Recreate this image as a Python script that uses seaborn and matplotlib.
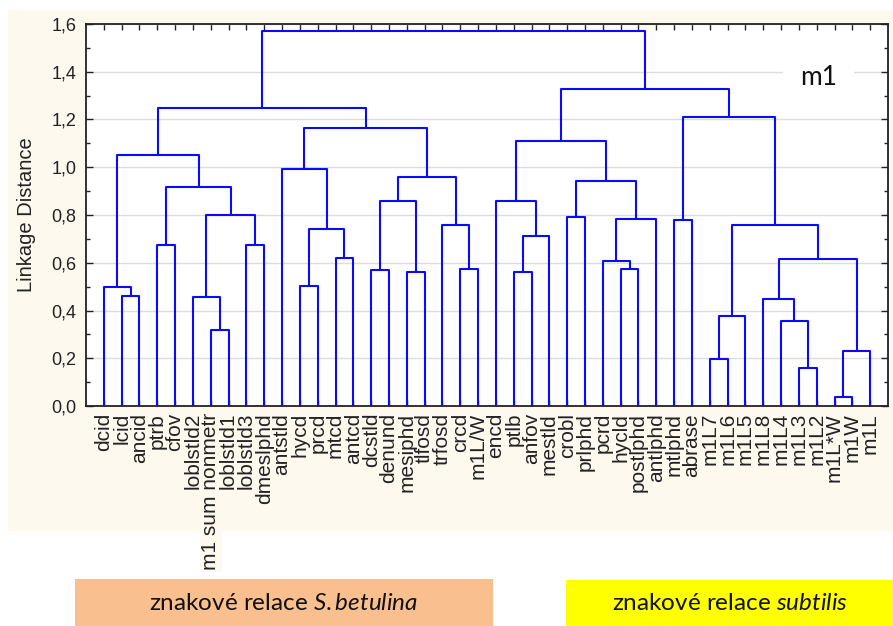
import numpy as np
import pandas as pd
import matplotlib
matplotlib.use("Agg")
import matplotlib.pyplot as plt
import seaborn as sns
from matplotlib.patches import Rectangle
from matplotlib.ticker import MultipleLocator, FuncFormatter

# ---------------- data ----------------
leaf_labels = ["dcid", "lcid", "ancid", "ptrb", "cfov", "loblstld2", "m1 sum nonmetr",
               "loblstld1", "loblstld3", "dmeslphd", "antstld", "hycd", "prcd", "mtcd",
               "antcd", "dcstld", "denund", "mesiphd", "tlfosd", "trfosd", "crcd", "m1L/W",
               "encd", "ptlb", "anfov", "mestld", "crobl", "prlphd", "pcrd", "hycld",
               "postlphd", "antlphd", "mtlphd", "abrase", "m1L7", "m1L6", "m1L5", "m1L8",
               "m1L4", "m1L3", "m1L2", "m1L*W", "m1W", "m1L"]

# linkage: cluster id of merge k is len(leaf_labels) + k
merge_left = [41, 39, 34, 44, 6, 38, 46, 37, 5, 1, 0, 11, 23, 17, 15, 20, 29, 28, 51, 13,
              3, 8, 56, 55, 19, 50, 32, 61, 26, 52, 58, 22, 64, 72, 74, 10, 54, 75, 79, 70,
              80, 81, 84]
merge_right = [42, 40, 35, 43, 7, 45, 36, 49, 48, 2, 53, 12, 24, 18, 16, 21, 30, 60, 47, 14,
               4, 9, 25, 63, 59, 62, 33, 31, 27, 65, 57, 66, 73, 71, 68, 67, 76, 77, 78, 69,
               82, 83, 85]
merge_height = [0.039, 0.158, 0.197, 0.230, 0.317, 0.356, 0.377, 0.449, 0.458, 0.462, 0.497,
                0.503, 0.560, 0.561, 0.568, 0.574, 0.574, 0.607, 0.614, 0.621, 0.673, 0.673,
                0.712, 0.740, 0.758, 0.760, 0.779, 0.785, 0.792, 0.799, 0.857, 0.857, 0.919,
                0.944, 0.958, 0.991, 1.050, 1.110, 1.164, 1.209, 1.248, 1.328, 1.572]

y_max = 1.6
corner_text = "m1"
box_left_text = "znakové relace $\\mathit{S{.}betulina}$"
box_right_text = "znakové relace $\\mathit{subtilis}$"

# ---------------- dendrogram link segments ----------------
n = len(leaf_labels)
node_x = list(range(n))
node_y = [0.0] * n
rows = []
for k, (a, b, h) in enumerate(zip(merge_left, merge_right, merge_height)):
    xa, ya = node_x[a], node_y[a]
    xb, yb = node_x[b], node_y[b]
    rows += [(k, xa, ya), (k, xa, h), (k, xb, h), (k, xb, yb)]
    node_x.append((xa + xb) / 2.0)
    node_y.append(h)
links = pd.DataFrame(rows, columns=["link", "x", "y"])

# ---------------- style ----------------
sns.set_theme(style="white")
plt.rcParams["font.family"] = ["Liberation Sans", "DejaVu Sans"]
plt.rcParams["mathtext.fontset"] = "custom"
plt.rcParams["mathtext.rm"] = "Lato"
plt.rcParams["mathtext.it"] = "Lato:italic"

W, H = 893, 626
cream = "#FEF9EF"
fig = plt.figure(figsize=(W / 100, H / 100), dpi=100)
fig.patch.set_facecolor("white")

# cream panel
fig.add_artist(Rectangle((8 / W, 1 - 531 / H), (W - 8) / W, (531 - 10) / H,
                         transform=fig.transFigure, facecolor=cream, edgecolor="none", zorder=-5))

ax = fig.add_axes([86 / W, 1 - 406 / H, (888 - 86) / W, (406 - 24) / H])
ax.set_facecolor("white")

sns.lineplot(data=links, x="x", y="y", units="link", estimator=None, sort=False,
             color="#0A0AFF", linewidth=1.5, ax=ax, legend=False)

ax.set_xlim(-1, n)
ax.set_ylim(0, y_max)
ax.set_xlabel("")

ax.set_xticks(range(n))
ax.set_xticklabels(leaf_labels, rotation=90, fontsize=15, color="#222222")
ax.tick_params(axis="x", direction="in", top=True, bottom=True, length=4, width=1,
               pad=5, color="#222222")

ax.yaxis.set_major_locator(MultipleLocator(0.2))
ax.yaxis.set_minor_locator(MultipleLocator(0.1))
ax.yaxis.set_major_formatter(FuncFormatter(lambda v, p: f"{v:.1f}".replace(".", ",")))
ax.tick_params(axis="y", which="major", direction="in", left=True, right=True, length=5,
               width=1, labelsize=13, pad=7, color="#222222", labelcolor="#222222")
ax.tick_params(axis="y", which="minor", direction="in", left=True, right=True, length=3,
               width=1, color="#222222")

ax.grid(axis="y", which="major", color="#DCDCDC", linewidth=1)
ax.grid(axis="x", visible=False)
ax.set_axisbelow(True)
for s in ax.spines.values():
    s.set_color("#222222")
    s.set_linewidth(1.3)

ax.set_ylabel("Linkage Distance", fontsize=14.5, color="#222222")
ax.yaxis.set_label_coords(-0.062, 0.5)

# long label reaches below the cream panel with its own cream background
ax.get_xticklabels()[6].set_bbox(dict(facecolor=cream, edgecolor="none", pad=1))

ax.text(40.1, 1.374, corner_text, fontsize=19, family=["Lato", "DejaVu Sans"],
        ha="center", va="center", color="#111111",
        bbox=dict(facecolor="white", edgecolor="none", pad=12))

# bottom boxes
fig.add_artist(Rectangle((75 / W, 0), (493 - 75) / W, (626 - 579) / H,
                         transform=fig.transFigure, facecolor="#F9BF8F", edgecolor="none"))
fig.add_artist(Rectangle((566 / W, 0), (W - 566) / W, (626 - 580) / H,
                         transform=fig.transFigure, facecolor="#FFFF00", edgecolor="none"))
fig.text(284 / W, 1 - 603 / H, box_left_text, ha="center", va="center", fontsize=17.5,
         family=["Lato", "DejaVu Sans"], color="#111111")
fig.text(729.5 / W, 1 - 603 / H, box_right_text, ha="center", va="center", fontsize=17.5,
         family=["Lato", "DejaVu Sans"], color="#111111")

fig.savefig("out.png", dpi=100)
